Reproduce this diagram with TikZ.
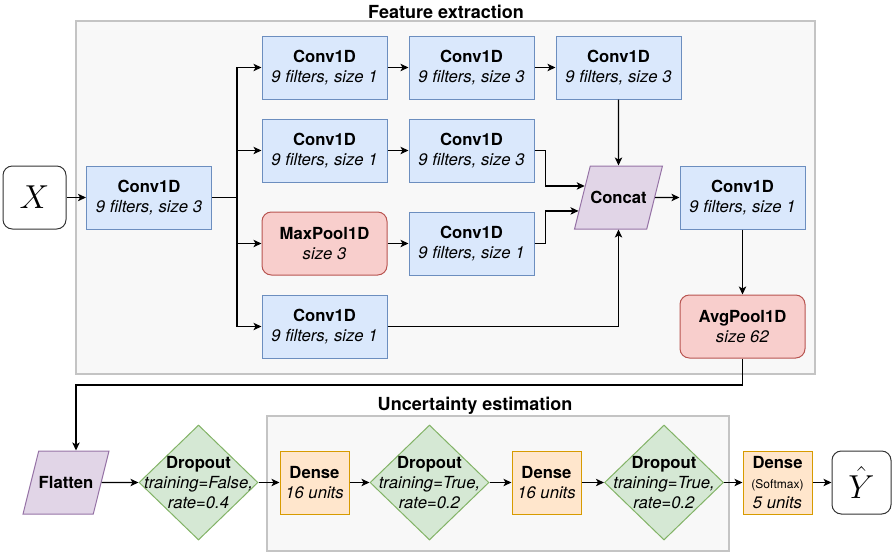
\documentclass[tikz,border=0pt]{standalone}
\usepackage{fontspec}
\setmainfont{TeX Gyre Heros}
\usetikzlibrary{shapes.geometric,arrows.meta,calc}

\definecolor{convfill}{HTML}{DAE8FC}
\definecolor{convline}{HTML}{6C8EBF}
\definecolor{poolfill}{HTML}{F8CECC}
\definecolor{poolline}{HTML}{B85450}
\definecolor{mergefill}{HTML}{E1D5E7}
\definecolor{mergeline}{HTML}{9673A6}
\definecolor{dropfill}{HTML}{D5E8D4}
\definecolor{dropline}{HTML}{82B366}
\definecolor{densefill}{HTML}{FFE6CC}
\definecolor{denseline}{HTML}{D79B00}
\definecolor{groupfill}{HTML}{F8F8F8}
\definecolor{groupline}{HTML}{C4C4C4}

\begin{document}
\begin{tikzpicture}[x=0.75pt,y=0.75pt,yscale=-1,xscale=1,
	every node/.style={font=\fontsize{12.5}{15}\selectfont, align=center},
	layer/.style={draw, line width=0.75pt, minimum width=93.75pt, minimum height=47.25pt, inner sep=0pt},
	convbox/.style={layer, fill=convfill, draw=convline},
	poolbox/.style={layer, rounded corners=7pt, fill=poolfill, draw=poolline},
	mergebox/.style={trapezium, trapezium left angle=76, trapezium right angle=104, trapezium stretches body=true,
		text height=28.1pt, text depth=19.15pt, minimum width=63pt, inner sep=0pt, line width=0.75pt,
		fill=mergefill, draw=mergeline},
	dropbox/.style={diamond, minimum width=89.25pt, minimum height=86.25pt, inner sep=0pt, line width=0.75pt,
		fill=dropfill, draw=dropline},
	densebox/.style={layer, minimum width=51.75pt, fill=densefill, draw=denseline},
	termbox/.style={draw=black!80, rounded corners=7pt, line width=0.75pt, minimum width=47.25pt, minimum height=47.25pt,
		inner sep=0pt, font=\fontsize{34}{36}\selectfont},
	groupbox/.style={draw=groupline, fill=groupfill, line width=1pt},
	grouptitle/.style={font=\fontsize{13.5}{16}\selectfont\bfseries},
	link/.style={line width=1pt, -{Stealth[length=6pt,width=5.5pt,inset=1.5pt]}}
	]
	\useasboundingbox (0,0) rectangle (892,554);
	
	%Groups
	\draw[groupbox] (76,21) rectangle (815,374);
	\draw[groupbox] (267,416) rectangle (729,551);
	\node[grouptitle] (fetitle) at (446,12) {Feature extraction};
	\node[grouptitle] (uetitle) at (475,406) {Uncertainty estimation};
	
	%Feature extraction
	\node[termbox] (x) at (34.5,197.5) {$X$};
	\node[convbox] (conv0) at (149,197.5) {\textbf{Conv1D}\\\textit{9 filters, size 3}};
	\node[convbox] (c11) at (324.5,67.5) {\textbf{Conv1D}\\\textit{9 filters, size 1}};
	\node[convbox] (c12) at (471.5,67.5) {\textbf{Conv1D}\\\textit{9 filters, size 3}};
	\node[convbox] (c13) at (618.5,67.5) {\textbf{Conv1D}\\\textit{9 filters, size 3}};
	\node[convbox] (c21) at (324.5,150.5) {\textbf{Conv1D}\\\textit{9 filters, size 1}};
	\node[convbox] (c22) at (471.5,150.5) {\textbf{Conv1D}\\\textit{9 filters, size 3}};
	\node[poolbox] (mp) at (324.5,243.5) {\textbf{MaxPool1D}\\\textit{size 3}};
	\node[convbox] (c32) at (471.5,243.5) {\textbf{Conv1D}\\\textit{9 filters, size 1}};
	\node[convbox] (c41) at (324.5,326.5) {\textbf{Conv1D}\\\textit{9 filters, size 1}};
	\node[mergebox] (concat) at (618.5,197.5) {\textbf{Concat}};
	\node[convbox] (c5) at (742.5,197.5) {\textbf{Conv1D}\\\textit{9 filters, size 1}};
	\node[poolbox] (avg) at (742.5,326.5) {\textbf{AvgPool1D}\\\textit{size 62}};
	
	%Uncertainty estimation
	\node[mergebox] (flatten) at (66,482.5) {\textbf{Flatten}};
	\node[dropbox, label={[align=center]center:\textbf{Dropout}\\\textit{training=False,}\\\textit{rate=0.4}}] (drop1) at (198.5,482.5) {};
	\node[densebox] (dense1) at (314.5,482.5) {\textbf{Dense}\\\textit{16 units}};
	\node[dropbox, label={[align=center]center:\textbf{Dropout}\\\textit{training=True,}\\\textit{rate=0.2}}] (drop2) at (429.5,482.5) {};
	\node[densebox] (dense2) at (546.5,482.5) {\textbf{Dense}\\\textit{16 units}};
	\node[dropbox, label={[align=center]center:\textbf{Dropout}\\\textit{training=True,}\\\textit{rate=0.2}}] (drop3) at (664,482.5) {};
	\node[densebox] (dense3) at (777.5,482.5) {\textbf{Dense}\\{\fontsize{9}{11}\selectfont(Softmax)}\\\textit{5 units}};
	\node[termbox, minimum width=44.25pt] (yhat) at (861.5,482.5) {$\hat{Y}$};
	
	%Connectors
	\coordinate (split) at (237,197.5);
	\coordinate (cin1) at ($(concat.top left corner)!0.32!(concat.bottom left corner)$);
	\coordinate (cin2) at ($(concat.top left corner)!0.71!(concat.bottom left corner)$);
	\coordinate (fold) at (76,385);
	\draw[link] (x) -- (conv0);
	\draw[line width=1pt] (conv0) -- (split);
	\foreach \n in {c11,c21,mp,c41}
		\draw[link] (split) |- (\n);
	\draw[link] (c11) -- (c12);
	\draw[link] (c12) -- (c13);
	\draw[link] (c21) -- (c22);
	\draw[link] (mp) -- (c32);
	\draw[link] (c13) -- (concat);
	\draw[link] (c22.east) -- ++(11,0) |- (cin1);
	\draw[link] (c32.east) -- ++(11,0) |- (cin2);
	\draw[link] (c41) -| (concat);
	\draw[link] (concat) -- (c5);
	\draw[link] (c5) -- (avg);
	\draw[link] (avg.south) |- (fold) -- (fold |- flatten.north);
	\draw[link] (flatten) -- (drop1);
	\draw[link] (drop1) -- (dense1);
	\draw[link] (dense1) -- (drop2);
	\draw[link] (drop2) -- (dense2);
	\draw[link] (dense2) -- (drop3);
	\draw[link] (drop3) -- (dense3);
	\draw[link] (dense3) -- (yhat);
	
\end{tikzpicture}
\end{document}
